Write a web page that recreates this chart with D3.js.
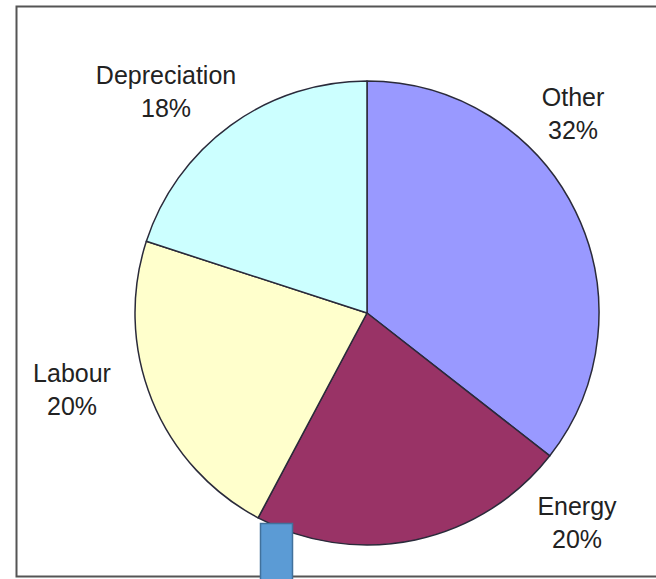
<!DOCTYPE html>
<html>
<head>
<meta charset="utf-8">
<script src="https://cdn.jsdelivr.net/npm/d3@7/dist/d3.min.js"></script>
<style>
  html, body { margin: 0; padding: 0; background: #fff; }
  svg { display: block; }
  .lbl { font-family: "Liberation Sans", Arial, sans-serif; font-size: 25px; fill: #222; }
</style>
</head>
<body>
<svg id="chart" width="656" height="579"></svg>
<script>
// Cost breakdown, in percent
const categories = ["Other", "Energy", "Labour", "Depreciation"];
const shares = [32, 20, 20, 18];
const sliceColors = ["#9999ff", "#993366", "#ffffcc", "#ccffff"];

const W = 656, H = 579;
const cx = 367, cy = 313, R = 232;

const svg = d3.select("#chart");

// outer frame (right side runs past the page edge)
svg.append("rect")
  .attr("x", 16.5).attr("y", 6.5)
  .attr("width", 650).attr("height", 570)
  .attr("fill", "#fff")
  .attr("stroke", "#555").attr("stroke-width", 2);

const data = categories.map((c, i) => ({ name: c, value: shares[i], color: sliceColors[i] }));

const pie = d3.pie().sort(null).value(d => d.value)
  .startAngle(0).endAngle(2 * Math.PI);
const arc = d3.arc().innerRadius(0).outerRadius(R);

const g = svg.append("g").attr("transform", `translate(${cx},${cy})`);

g.selectAll("path.slice")
  .data(pie(data))
  .join("path")
  .attr("class", "slice")
  .attr("d", arc)
  .attr("fill", d => d.data.color)
  .attr("stroke", "#2a2a3a")
  .attr("stroke-width", 1.5)
  .attr("stroke-linejoin", "round");

// data labels sit in the corners around the pie (offsets from the centre)
const labelOffset = {
  "Other":        [206, -207],
  "Energy":       [210, 202],
  "Labour":       [-295, 69],
  "Depreciation": [-201, -229]
};

const labels = g.selectAll("text.lbl")
  .data(data)
  .join("text")
  .attr("class", "lbl")
  .attr("text-anchor", "middle")
  .attr("transform", d => `translate(${labelOffset[d.name][0]},${labelOffset[d.name][1]})`);

labels.append("tspan").attr("x", 0).attr("y", 0).text(d => d.name);
labels.append("tspan").attr("x", 0).attr("y", 33).text(d => d.value + "%");

// small blue marker at the bottom edge
svg.append("rect")
  .attr("x", 260.5).attr("y", 523.5)
  .attr("width", 32).attr("height", 60)
  .attr("fill", "#5b9bd5")
  .attr("stroke", "#41719c").attr("stroke-width", 1.5);
</script>
</body>
</html>
